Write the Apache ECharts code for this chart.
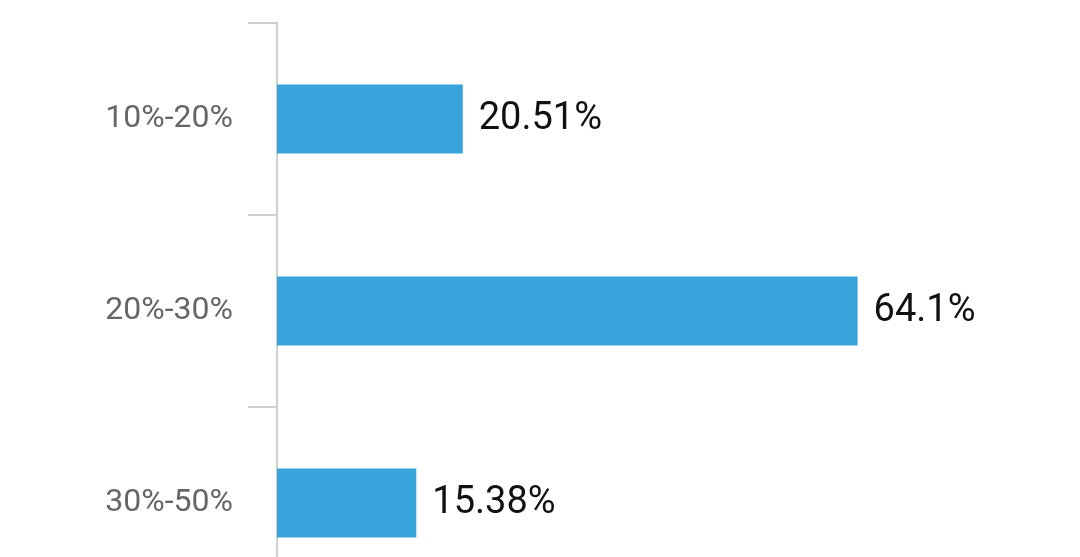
<!DOCTYPE html>
<html>
<head>
<meta charset="utf-8">
<script src="https://cdn.jsdelivr.net/npm/echarts@6/dist/echarts.min.js"></script>
<style>html,body{margin:0;padding:0;background:#fff;overflow:hidden;width:1080px;height:557px}#c{width:1080px;height:620px}</style>
</head>
<body>
<div id="c"></div>
<script>
const categories = ['10%-20%', '20%-30%', '30%-50%'];
const values = [20.51, 64.1, 15.38];

const chart = echarts.init(document.getElementById('c'), null, {renderer: 'canvas'});
chart.setOption({
  backgroundColor: '#ffffff',
  animation: false,
  grid: {left: 277, top: 23, width: 634, height: 576, containLabel: false},
  xAxis: {type: 'value', min: 0, max: 70, show: false},
  yAxis: {
    type: 'category', inverse: true, data: categories,
    axisLine: {show: true, lineStyle: {color: '#cfcfcf', width: 2}},
    axisTick: {show: true, length: 29, lineStyle: {color: '#cfcfcf', width: 2}},
    axisLabel: {margin: 44, color: '#666666', fontSize: 32, fontFamily: 'Roboto'},
    splitLine: {show: false}
  },
  series: [{
    type: 'bar', data: values, barWidth: 69,
    itemStyle: {color: '#36a3da'},
    label: {show: true, position: 'right', distance: 16, color: '#111111', fontSize: 38, fontFamily: 'Roboto',
      formatter: p => p.value + '%'}
  }]
});
</script>
</body>
</html>
